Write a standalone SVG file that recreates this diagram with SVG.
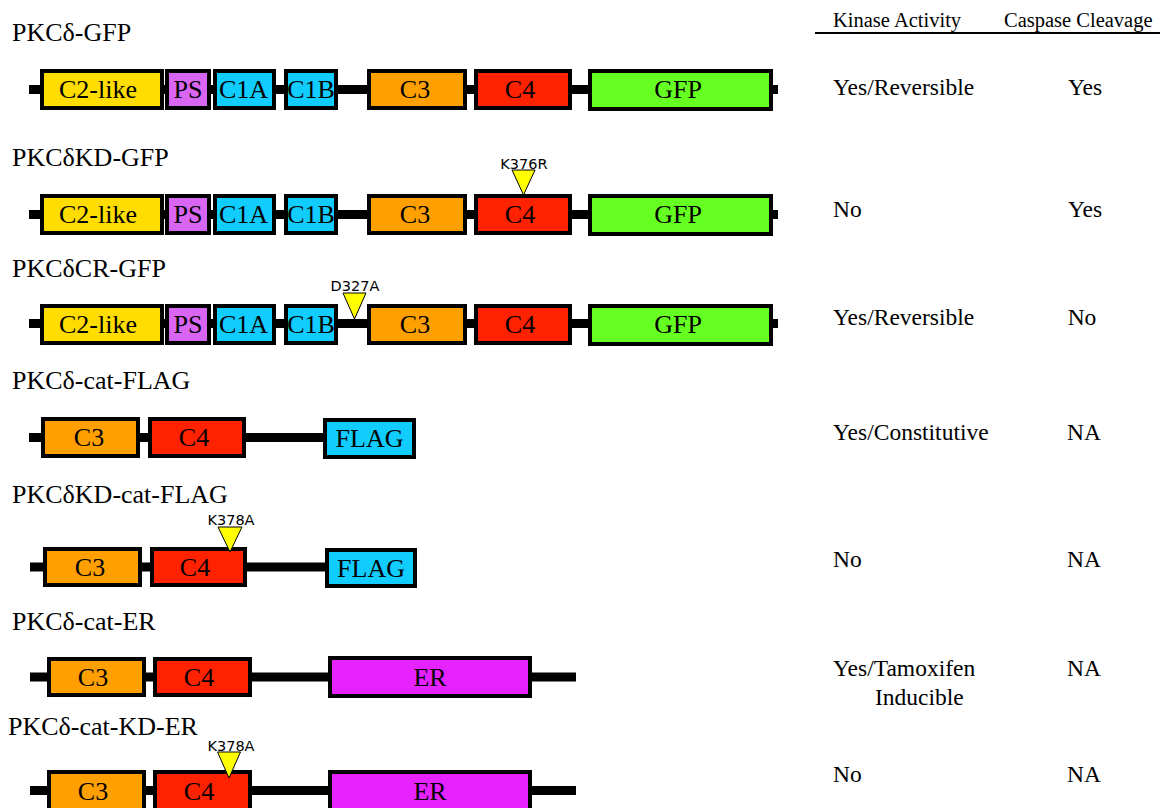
<svg xmlns="http://www.w3.org/2000/svg" width="1160" height="808" viewBox="0 0 1160 808">
<style>
.t{font-family:"Liberation Serif",serif;font-size:26px;fill:#000}
.d{font-family:"Liberation Serif",serif;font-size:26px;fill:#000;text-anchor:middle}
.h{font-family:"Liberation Serif",serif;font-size:20.5px;fill:#000}
.c{font-family:"Liberation Serif",serif;font-size:23.5px;fill:#000}
.cm{font-family:"Liberation Serif",serif;font-size:23.5px;fill:#000;text-anchor:middle}
.m{font-family:"DejaVu Sans",sans-serif;font-size:14.5px;fill:#000;text-anchor:middle}
.bb{stroke:#000;stroke-width:9;fill:none}
.box{stroke:#000;stroke-width:4}
.c2{fill:#FFDD00}.ps{fill:#D966F2}.c1{fill:#11CCFF}.c3{fill:#FFA000}.c4{fill:#FF2200}.gfp{fill:#66FF22}.flag{fill:#11CCFF}.er{fill:#E622FF}
.tri{fill:#FFFF00;stroke:#000;stroke-width:1}
</style>
<rect width="1160" height="808" fill="#fff"/>
<g id="connectors">
<line class="bb" x1="29" y1="89.5" x2="778" y2="89.5"/>
<line class="bb" x1="29" y1="214.5" x2="778" y2="214.5"/>
<line class="bb" x1="29" y1="323.5" x2="778" y2="323.5"/>
<line class="bb" x1="29" y1="437.5" x2="325" y2="437.5"/>
<line class="bb" x1="30" y1="567" x2="327" y2="567"/>
<line class="bb" x1="30" y1="677" x2="576" y2="677"/>
<line class="bb" x1="30" y1="790.5" x2="576" y2="790.5"/>
</g>
<g id="header">
<text class="h" x="833" y="27">Kinase Activity</text>
<text class="h" x="1004" y="27">Caspase Cleavage</text>
<line x1="815" y1="33" x2="1160" y2="33" stroke="#000" stroke-width="2"/>
</g>
<g id="row1">
<text class="t" x="12" y="41">PKCδ-GFP</text>
<rect class="box c2" x="42" y="71" width="120" height="37"/><text class="d" x="98" y="98">C2-like</text>
<rect class="box ps" x="167" y="71" width="42" height="37"/><text class="d" x="188" y="98">PS</text>
<rect class="box c1" x="215" y="71" width="59" height="37"/><text class="d" x="243.5" y="98">C1A</text>
<rect class="box c1" x="286" y="71" width="50" height="37"/><text class="d" x="311" y="98">C1B</text>
<rect class="box c3" x="369" y="71" width="96" height="37"/><text class="d" x="415" y="98">C3</text>
<rect class="box c4" x="476" y="71" width="94" height="37"/><text class="d" x="520" y="98">C4</text>
<rect class="box gfp" x="590" y="71" width="181" height="38"/><text class="d" x="678" y="98">GFP</text>
<text class="c" x="833" y="95">Yes/Reversible</text>
<text class="cm" x="1085" y="95">Yes</text>
</g>
<g id="row2">
<text class="t" x="12" y="166">PKCδKD-GFP</text>
<rect class="box c2" x="42" y="196" width="120" height="37"/><text class="d" x="98" y="223">C2-like</text>
<rect class="box ps" x="167" y="196" width="42" height="37"/><text class="d" x="188" y="223">PS</text>
<rect class="box c1" x="215" y="196" width="59" height="37"/><text class="d" x="243.5" y="223">C1A</text>
<rect class="box c1" x="286" y="196" width="50" height="37"/><text class="d" x="311" y="223">C1B</text>
<rect class="box c3" x="369" y="196" width="96" height="37"/><text class="d" x="415" y="223">C3</text>
<rect class="box c4" x="476" y="196" width="94" height="37"/><text class="d" x="520" y="223">C4</text>
<rect class="box gfp" x="590" y="196" width="181" height="38"/><text class="d" x="678" y="223">GFP</text>
<polygon class="tri" points="512,170 535,170 523.5,195"/>
<text class="m" x="524" y="169">K376R</text>
<text class="c" x="833" y="217">No</text>
<text class="cm" x="1085" y="217">Yes</text>
</g>
<g id="row3">
<text class="t" x="12" y="277">PKCδCR-GFP</text>
<rect class="box c2" x="42" y="306" width="120" height="37"/><text class="d" x="98" y="333">C2-like</text>
<rect class="box ps" x="167" y="306" width="42" height="37"/><text class="d" x="188" y="333">PS</text>
<rect class="box c1" x="215" y="306" width="59" height="37"/><text class="d" x="243.5" y="333">C1A</text>
<rect class="box c1" x="286" y="306" width="50" height="37"/><text class="d" x="311" y="333">C1B</text>
<rect class="box c3" x="369" y="306" width="96" height="37"/><text class="d" x="415" y="333">C3</text>
<rect class="box c4" x="476" y="306" width="94" height="37"/><text class="d" x="520" y="333">C4</text>
<rect class="box gfp" x="590" y="306" width="181" height="38"/><text class="d" x="678" y="333">GFP</text>
<polygon class="tri" points="343,293 366,293 354.5,319"/>
<text class="m" x="355" y="291">D327A</text>
<text class="c" x="833" y="325">Yes/Reversible</text>
<text class="cm" x="1082" y="325">No</text>
</g>
<g id="row4">
<text class="t" x="12" y="389">PKCδ-cat-FLAG</text>
<rect class="box c3" x="43" y="419" width="95" height="37"/><text class="d" x="89" y="446">C3</text>
<rect class="box c4" x="150" y="419" width="94" height="37"/><text class="d" x="194" y="446">C4</text>
<rect class="box flag" x="325" y="420" width="89" height="37"/><text class="d" x="369.5" y="447">FLAG</text>
<text class="c" x="833" y="440">Yes/Constitutive</text>
<text class="cm" x="1084" y="440">NA</text>
</g>
<g id="row5">
<text class="t" x="12" y="503">PKCδKD-cat-FLAG</text>
<rect class="box c3" x="45" y="549" width="95" height="36"/><text class="d" x="90" y="576">C3</text>
<rect class="box c4" x="152" y="549" width="93" height="36"/><text class="d" x="195" y="576">C4</text>
<rect class="box flag" x="327" y="550" width="88" height="36"/><text class="d" x="371" y="577">FLAG</text>
<polygon class="tri" points="218,527 242,527 230,552"/>
<text class="m" x="231" y="525">K378A</text>
<text class="c" x="833" y="567">No</text>
<text class="cm" x="1084" y="567">NA</text>
</g>
<g id="row6">
<text class="t" x="12" y="630">PKCδ-cat-ER</text>
<rect class="box c3" x="49" y="659" width="95" height="36"/><text class="d" x="93" y="686">C3</text>
<rect class="box c4" x="155" y="659" width="95" height="36"/><text class="d" x="199" y="686">C4</text>
<rect class="box er" x="330" y="658" width="200" height="38"/><text class="d" x="430" y="686">ER</text>
<text class="c" x="833" y="676">Yes/Tamoxifen</text>
<text class="c" x="875" y="705">Inducible</text>
<text class="cm" x="1084" y="676">NA</text>
</g>
<g id="row7">
<text class="t" x="8" y="735">PKCδ-cat-KD-ER</text>
<rect class="box c3" x="49" y="772" width="95" height="40"/><text class="d" x="93" y="800">C3</text>
<rect class="box c4" x="155" y="772" width="95" height="40"/><text class="d" x="199" y="800">C4</text>
<rect class="box er" x="330" y="772" width="200" height="40"/><text class="d" x="430" y="800">ER</text>
<polygon class="tri" points="217.5,752 240.5,752 229,778"/>
<text class="m" x="231" y="751">K378A</text>
<text class="c" x="833" y="782">No</text>
<text class="cm" x="1084" y="782">NA</text>
</g>
</svg>
